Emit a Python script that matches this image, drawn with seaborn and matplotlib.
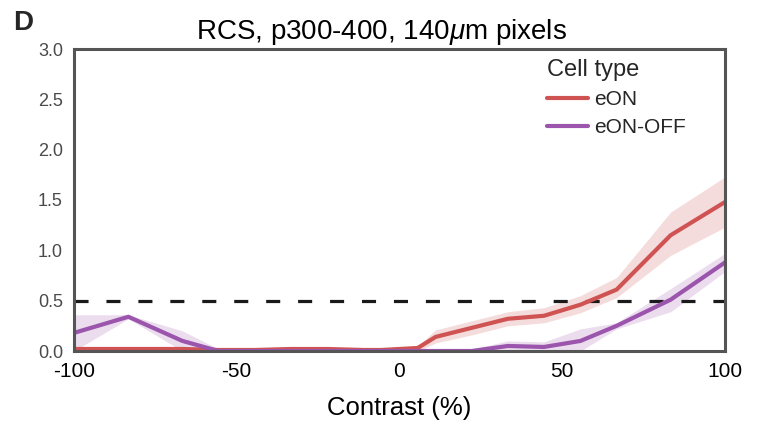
import numpy as np
import pandas as pd
import matplotlib
matplotlib.use("Agg")
import matplotlib.pyplot as plt
import seaborn as sns

# ---- data ----
contrast = [-100, -83.3, -66.7, -55.6, -44.4, -33.3, -22.2, -11.1, -5.6, 0,
            5.6, 11.1, 22.2, 33.3, 44.4, 55.6, 66.7, 83.3, 100]
eon_mean = [0.02, 0.02, 0.02, 0.01, 0.01, 0.02, 0.02, 0.01, 0.01, 0.02,
            0.03, 0.14, 0.23, 0.32, 0.35, 0.46, 0.61, 1.15, 1.48]
eon_low = [0.0, 0.0, 0.0, 0.0, 0.0, 0.0, 0.0, 0.0, 0.0, 0.0,
           0.0, 0.08, 0.16, 0.25, 0.28, 0.38, 0.53, 0.95, 1.23]
eon_high = [0.04, 0.04, 0.04, 0.03, 0.03, 0.04, 0.04, 0.03, 0.03, 0.04,
            0.05, 0.21, 0.30, 0.39, 0.43, 0.55, 0.73, 1.38, 1.73]
eonoff_mean = [0.18, 0.34, 0.10, 0.0, 0.0, 0.0, 0.0, 0.0, 0.0, 0.0,
               0.0, 0.0, 0.0, 0.05, 0.04, 0.10, 0.25, 0.51, 0.88]
eonoff_low = [0.0, 0.32, 0.0, 0.0, 0.0, 0.0, 0.0, 0.0, 0.0, 0.0,
              0.0, 0.0, 0.0, 0.0, 0.0, 0.0, 0.22, 0.39, 0.79]
eonoff_high = [0.36, 0.36, 0.20, 0.02, 0.01, 0.01, 0.01, 0.01, 0.02, 0.02,
               0.02, 0.02, 0.02, 0.10, 0.09, 0.22, 0.28, 0.62, 0.97]
cell_types = ["eON", "eON-OFF"]
threshold = 0.5
title = "RCS, p300-400, 140$\\mu$m pixels"

colors = {"eON": "#d05353", "eON-OFF": "#9b55ad"}

df = pd.concat([
    pd.DataFrame({"Contrast": contrast, "value": eon_mean, "Cell type": "eON"}),
    pd.DataFrame({"Contrast": contrast, "value": eonoff_mean, "Cell type": "eON-OFF"}),
])

sns.set_theme(style="white")
plt.rcParams["font.family"] = ["Liberation Sans", "DejaVu Sans"]
plt.rcParams["mathtext.fontset"] = "custom"
plt.rcParams["mathtext.it"] = "Liberation Sans:italic"

fig = plt.figure(figsize=(7.62, 4.26), dpi=100)
ax = fig.add_axes([74 / 762, 75 / 426, (725 - 74) / 762, (351 - 49) / 426])

ax.fill_between(contrast, eon_low, eon_high, color=colors["eON"], alpha=0.2, lw=0)
ax.fill_between(contrast, eonoff_low, eonoff_high, color=colors["eON-OFF"], alpha=0.2, lw=0)
sns.lineplot(data=df, x="Contrast", y="value", hue="Cell type", hue_order=cell_types,
             palette=colors, lw=3, errorbar=None, ax=ax)
ax.axhline(threshold, color="#1a1a1a", lw=2.3, dashes=(4.4, 5.6), zorder=1)

ax.set_xlim(-100, 100)
ax.set_ylim(0, 3)
ax.set_xticks([-100, -50, 0, 50, 100])
ax.set_xticklabels(["-100", "-50", "0", "50", "100"])
ax.set_yticks([0, 0.5, 1.0, 1.5, 2.0, 2.5, 3.0])
ax.set_yticklabels(["0.0", "0.5", "1.0", "1.5", "2.0", "2.5", "3.0"])
ax.tick_params(axis="x", labelsize=15, colors="black", length=0, pad=8)
ax.tick_params(axis="y", labelsize=13, labelcolor="#4a4a4a", length=0, pad=8)
ax.set_xlabel("Contrast (%)", fontsize=18.5, color="black", labelpad=11)
ax.set_ylabel("")
ax.set_title(title, fontsize=20, color="black", pad=7, x=(381 - 74) / 651)
for s in ax.spines.values():
    s.set_color("#555555")
    s.set_linewidth(2.2)

leg = ax.legend(title="Cell type", loc="upper right", bbox_to_anchor=(0.966, 1.023),
                frameon=False, fontsize=15, title_fontsize=17, handlelength=2.0,
                handletextpad=0.3, labelspacing=0.45, borderpad=0.3,
                alignment="left")
leg.get_title().set_x(0)
for line in leg.get_lines():
    line.set_linewidth(3)

fig.text(13 / 762, 1 - 23 / 426, "D", fontsize=20, fontweight="bold", va="center", ha="left")

fig.savefig("out.png", dpi=100)
